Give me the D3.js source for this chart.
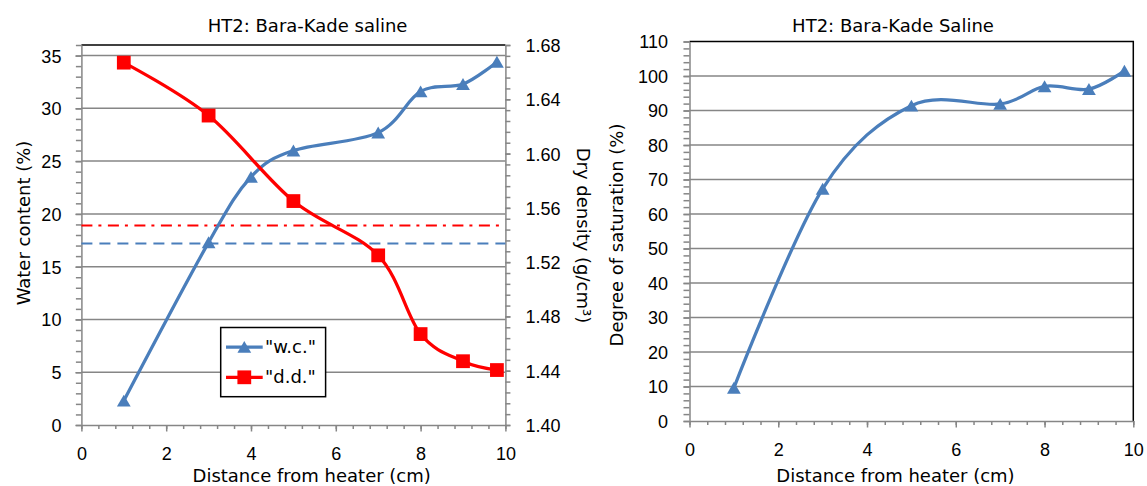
<!DOCTYPE html>
<html>
<head>
<meta charset="utf-8">
<script src="https://cdn.jsdelivr.net/npm/d3@7"></script>
<style>
  html, body { margin: 0; padding: 0; background: #fff; }
  svg { display: block; font-family: "DejaVu Sans", Verdana, sans-serif; }
  .tick text { font-size: 18px; fill: #000; }
  .domain { stroke: #868686; stroke-width: 1.5; }
  .tick line { stroke: #868686; stroke-width: 1.5; }
</style>
</head>
<body>
<svg id="chart" width="1147" height="486"></svg>
<script>
// HT2 Bara-Kade saline: water content and dry density vs distance from heater
const distWC = [1, 3, 4, 5, 7, 8, 9, 9.8];
const waterContent = [2.3, 17.3, 23.5, 26.0, 27.7, 31.6, 32.3, 34.4];
const distDD = [1, 3, 5, 7, 8, 9, 9.8];
const dryDensity = [1.667, 1.628, 1.565, 1.525, 1.467, 1.447, 1.4405];
const refWaterContent = 17.2;   // initial water content (dashed)
const refDryDensity = 1.547;    // initial dry density (dash-dot)

// Degree of saturation
const distSat = [1, 3, 5, 7, 8, 9, 9.8];
const saturation = [9.6, 67.3, 91.4, 91.9, 97.0, 96.2, 101.5];

// Tick labels
const xTicks = [0, 2, 4, 6, 8, 10];
const wcTicks = [0, 5, 10, 15, 20, 25, 30, 35];
const ddTicks = [1.40, 1.44, 1.48, 1.52, 1.56, 1.60, 1.64, 1.68];
const satTicks = [0, 10, 20, 30, 40, 50, 60, 70, 80, 90, 100, 110];

const legendNames = ['"w.c."', '"d.d."'];

const BLUE = "#4a7ebb", RED = "#ff0000", GRID = "#868686";
const svg = d3.select("#chart");

const range = (a, b, s) => d3.range(0, Math.round((b - a) / s) + 1).map(i => +(a + i * s).toFixed(4));
const smooth = d3.curveCardinal.tension(0);

function triangle(sel, cx, cy, color) {
  sel.append("path")
    .attr("d", d3.symbol(d3.symbolTriangle, 82)())
    .attr("transform", `translate(${cx},${cy + 1.9})`)
    .attr("fill", color);
}
function square(sel, cx, cy, color) {
  sel.append("path")
    .attr("d", d3.symbol(d3.symbolSquare, 190)())
    .attr("transform", `translate(${cx},${cy})`)
    .attr("fill", color);
}

// ---------------- Left panel ----------------
const L = { left: 81.4, right: 505.4, top: 45, bottom: 425 };
const xL = d3.scaleLinear().domain([0, 10]).range([L.left, L.right]);
const yWC = d3.scaleLinear().domain([0, 36]).range([L.bottom, L.top]);
const yDD = d3.scaleLinear().domain([1.40, 1.68]).range([L.bottom, L.top]);

const gL = svg.append("g");

// gridlines
gL.append("g").selectAll("line").data(wcTicks.filter(d => d > 0)).join("line")
  .attr("x1", L.left).attr("x2", L.right)
  .attr("y1", d => yWC(d)).attr("y2", d => yWC(d))
  .attr("stroke", GRID).attr("stroke-width", 1.5);

// plot border (top)
gL.append("line").attr("x1", L.left).attr("x2", L.right)
  .attr("y1", L.top).attr("y2", L.top).attr("stroke", "#000").attr("stroke-width", 1.5);

// minor ticks
gL.append("g").attr("transform", `translate(${L.left},0)`)
  .call(d3.axisLeft(yWC).tickValues(range(0, 36, 1)).tickSize(5.5).tickFormat(""))
  .call(g => g.select(".domain").remove());
gL.append("g").attr("transform", `translate(${L.right},0)`)
  .call(d3.axisRight(yDD).tickValues(range(1.40, 1.68, 0.008)).tickSize(5).tickFormat(""))
  .call(g => g.select(".domain").remove());
gL.append("g").attr("transform", `translate(0,${L.bottom})`)
  .call(d3.axisBottom(xL).tickValues(range(0, 10, 0.4)).tickSize(4).tickFormat(""))
  .call(g => g.select(".domain").remove());

// major axes
gL.append("g").attr("transform", `translate(${L.left},0)`)
  .call(d3.axisLeft(yWC).tickValues(wcTicks).tickSize(6).tickPadding(14).tickSizeOuter(0))
  .call(g => g.selectAll(".tick text").attr("dy", "0.36em"));
gL.append("g").attr("transform", `translate(${L.right},0)`)
  .call(d3.axisRight(yDD).tickValues(ddTicks).tickFormat(d3.format(".2f")).tickSize(5).tickPadding(15).tickSizeOuter(0))
  .call(g => g.selectAll(".tick text").attr("dy", "0.36em"));
gL.append("g").attr("transform", `translate(0,${L.bottom})`)
  .call(d3.axisBottom(xL).tickValues(xTicks).tickSize(6.5).tickPadding(15.7).tickSizeOuter(0));

// reference lines
gL.append("line").attr("x1", L.left).attr("x2", L.right)
  .attr("y1", yDD(refDryDensity)).attr("y2", yDD(refDryDensity))
  .attr("stroke", RED).attr("stroke-width", 2).attr("stroke-dasharray", "11,6,3,6.5");
gL.append("line").attr("x1", L.left).attr("x2", L.right)
  .attr("y1", yWC(refWaterContent)).attr("y2", yWC(refWaterContent))
  .attr("stroke", BLUE).attr("stroke-width", 2).attr("stroke-dasharray", "11,7");

// water content series
const wcPts = distWC.map((d, i) => [xL(d), yWC(waterContent[i])]);
gL.append("path").attr("d", d3.line().curve(smooth)(wcPts))
  .attr("fill", "none").attr("stroke", BLUE).attr("stroke-width", 3.25);
wcPts.forEach(p => triangle(gL, p[0], p[1], BLUE));

// dry density series
const ddPts = distDD.map((d, i) => [xL(d), yDD(dryDensity[i])]);
gL.append("path").attr("d", d3.line().curve(smooth)(ddPts))
  .attr("fill", "none").attr("stroke", RED).attr("stroke-width", 3.25);
ddPts.forEach(p => square(gL, p[0], p[1], RED));

// legend
const lg = gL.append("g");
lg.append("rect").attr("x", 220.7).attr("y", 327.5).attr("width", 104.9).attr("height", 69.2)
  .attr("fill", "#fff").attr("stroke", "#000").attr("stroke-width", 1.5);
[[BLUE, triangle], [RED, square]].forEach(([c, mark], i) => {
  const y = 347 + i * 30.3;
  lg.append("line").attr("x1", 226).attr("x2", 262.7).attr("y1", y).attr("y2", y)
    .attr("stroke", c).attr("stroke-width", 3.25);
  mark(lg, 244.3, y, c);
  lg.append("text").attr("x", 265).attr("y", y + 5.6)
    .attr("font-size", 18).text(legendNames[i]);
});

// titles
gL.append("text").attr("x", 307.6).attr("y", 32).attr("text-anchor", "middle")
  .attr("font-size", 18).text("HT2: Bara-Kade saline");
gL.append("text").attr("x", 311.7).attr("y", 481.5).attr("text-anchor", "middle")
  .attr("font-size", 18).text("Distance from heater (cm)");
gL.append("text").attr("transform", "translate(30,223) rotate(-90)").attr("text-anchor", "middle")
  .attr("font-size", 18).text("Water content (%)");
gL.append("text").attr("transform", "translate(577,235.5) rotate(90)").attr("text-anchor", "middle")
  .attr("font-size", 18).text("Dry density (g/cm³)");

// ---------------- Right panel ----------------
const R = { left: 689.5, right: 1133.3, top: 41.5, bottom: 421 };
const xR = d3.scaleLinear().domain([0, 10]).range([R.left, R.right]);
const ySat = d3.scaleLinear().domain([0, 110]).range([R.bottom, R.top]);

const gR = svg.append("g");

gR.append("g").selectAll("line").data(satTicks.filter(d => d > 0 && d < 110)).join("line")
  .attr("x1", R.left).attr("x2", R.right)
  .attr("y1", d => ySat(d)).attr("y2", d => ySat(d))
  .attr("stroke", GRID).attr("stroke-width", 1.5);

// plot border (top and right)
gR.append("path")
  .attr("d", `M${R.left},${R.top}H${R.right}V${R.bottom}`)
  .attr("fill", "none").attr("stroke", "#000").attr("stroke-width", 1.5);

gR.append("g").attr("transform", `translate(${R.left},0)`)
  .call(d3.axisLeft(ySat).tickValues(range(0, 110, 2)).tickSize(6).tickFormat(""))
  .call(g => g.select(".domain").remove());
gR.append("g").attr("transform", `translate(0,${R.bottom})`)
  .call(d3.axisBottom(xR).tickValues(range(0, 10, 0.4)).tickSize(4).tickFormat(""))
  .call(g => g.select(".domain").remove());

gR.append("g").attr("transform", `translate(${R.left},0)`)
  .call(d3.axisLeft(ySat).tickValues(satTicks).tickSize(6).tickPadding(15.5).tickSizeOuter(0))
  .call(g => g.selectAll(".tick text").attr("dy", "0.36em"));
gR.append("g").attr("transform", `translate(0,${R.bottom})`)
  .call(d3.axisBottom(xR).tickValues(xTicks).tickSize(6.5).tickPadding(15.7).tickSizeOuter(0));

const satPts = distSat.map((d, i) => [xR(d), ySat(saturation[i])]);
gR.append("path").attr("d", d3.line().curve(smooth)(satPts))
  .attr("fill", "none").attr("stroke", BLUE).attr("stroke-width", 3.25);
satPts.forEach(p => triangle(gR, p[0], p[1], BLUE));

gR.append("text").attr("x", 893).attr("y", 32).attr("text-anchor", "middle")
  .attr("font-size", 18).text("HT2: Bara-Kade Saline");
gR.append("text").attr("x", 895.5).attr("y", 481.5).attr("text-anchor", "middle")
  .attr("font-size", 18).text("Distance from heater (cm)");
gR.append("text").attr("transform", "translate(623,235) rotate(-90)").attr("text-anchor", "middle")
  .attr("font-size", 18).text("Degree of saturation (%)");
</script>
</body>
</html>
